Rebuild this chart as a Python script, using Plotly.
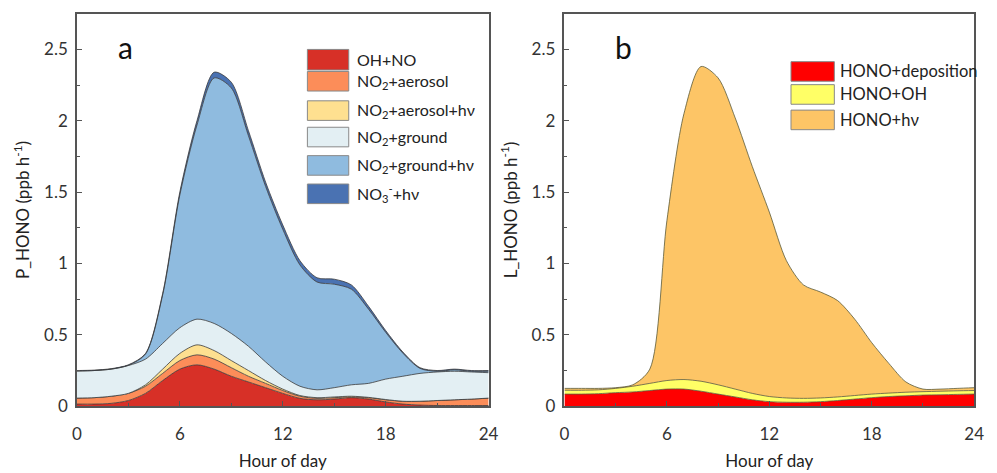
import plotly.graph_objects as go

hours = list(range(25))

# Panel a: HONO production terms (ppb h-1), per layer
oh_no = [0.015,0.015,0.02,0.04,0.09,0.18,0.26,0.29,0.26,0.21,0.17,0.13,0.09,0.055,0.045,0.05,0.06,0.05,0.03,0.015,0.008,0.005,0.005,0.005,0.005]
no2_aerosol = [0.042,0.045,0.05,0.05,0.05,0.05,0.06,0.07,0.07,0.06,0.04,0.03,0.02,0.015,0.01,0.01,0.005,0.01,0.015,0.02,0.027,0.035,0.04,0.045,0.052]
no2_aerosol_hv = [0,0,0,0,0.01,0.03,0.05,0.07,0.06,0.05,0.04,0.02,0.01,0.005,0.005,0.005,0.005,0.002,0.002,0,0,0,0,0,0]
no2_ground = [0.19,0.19,0.19,0.195,0.18,0.18,0.18,0.18,0.19,0.19,0.17,0.13,0.09,0.065,0.055,0.065,0.08,0.098,0.143,0.175,0.195,0.2,0.2,0.19,0.178]
no2_ground_hv = [0,0,0,0.002,0.035,0.34,0.93,1.36,1.72,1.72,1.475,1.23,1.03,0.85,0.755,0.725,0.67,0.52,0.328,0.162,0.035,0.005,0.01,0.005,0.01]
no3_hv = [0.003,0.003,0.003,0.003,0.005,0.01,0.02,0.03,0.04,0.04,0.035,0.03,0.03,0.03,0.03,0.035,0.03,0.02,0.012,0.008,0.005,0.005,0.005,0.005,0.005]

# Panel b: HONO loss terms (ppb h-1), per layer
hono_dep = [0.085,0.085,0.088,0.095,0.1,0.11,0.12,0.12,0.105,0.085,0.065,0.045,0.032,0.028,0.028,0.032,0.04,0.05,0.06,0.068,0.073,0.078,0.08,0.083,0.085]
hono_oh = [0.027,0.027,0.027,0.03,0.04,0.05,0.06,0.067,0.07,0.065,0.055,0.045,0.036,0.03,0.027,0.026,0.025,0.025,0.025,0.024,0.025,0.024,0.025,0.025,0.025]
hono_hv = [0.013,0.013,0.01,0.005,0.01,0.10,1.12,1.863,2.205,2.15,1.9,1.59,1.292,0.962,0.795,0.742,0.675,0.535,0.36,0.208,0.072,0.018,0.015,0.017,0.02]

x_ticks = [0, 6, 12, 18, 24]
y_ticks = [0, 0.5, 1, 1.5, 2, 2.5]

left_series = [
    ("OH+NO", oh_no, "#d73027"),
    ("NO<sub>2</sub>+aerosol", no2_aerosol, "#fc8d59"),
    ("NO<sub>2</sub>+aerosol+hν", no2_aerosol_hv, "#fee090"),
    ("NO<sub>2</sub>+ground", no2_ground, "#e3eff3"),
    ("NO<sub>2</sub>+ground+hν", no2_ground_hv, "#8fbbdf"),
    ("NO<sub>3</sub><sup>-</sup>+hν", no3_hv, "#4a72b2"),
]
right_series = [
    ("HONO+deposition", hono_dep, "#ff0000"),
    ("HONO+OH", hono_oh, "#ffff66"),
    ("HONO+hν", hono_hv, "#fdc566"),
]

FONT = "Lato"
W, H = 997, 473
fig = go.Figure()

for name, vals, col in left_series:
    fig.add_trace(go.Scatter(x=hours, y=vals, name=name, stackgroup="a",
                             mode="lines", fillcolor=col,
                             line=dict(color="#3a3a3a", width=0.8, shape="spline", smoothing=0.8),
                             xaxis="x", yaxis="y", showlegend=False))
for name, vals, col in right_series:
    fig.add_trace(go.Scatter(x=hours, y=vals, name=name, stackgroup="b",
                             mode="lines", fillcolor=col,
                             line=dict(color="#5a5a3a", width=0.8, shape="spline", smoothing=0.8),
                             xaxis="x2", yaxis="y2", showlegend=False))

ydom = [(H - 415) / H, (H - 14) / H]
axis_common = dict(showline=True, linecolor="#555555", linewidth=1.5, mirror=True,
                   ticks="inside", ticklen=5, tickcolor="#555555", tickwidth=1.2,
                   showgrid=False, zeroline=False,
                   tickfont=dict(family=FONT, size=17, color="#333333"))
xax = dict(axis_common, range=[0, 24], tickvals=x_ticks,
           minor=dict(ticks="inside", dtick=3, tick0=0, ticklen=3, tickcolor="#555555"),
           ticklabelstandoff=12,
           title=dict(text="Hour of day", font=dict(family=FONT, size=17, color="#222222"), standoff=12))
yax = dict(axis_common, range=[0, 2.75], tickvals=y_ticks, domain=ydom,
           minor=dict(ticks="inside", dtick=0.25, tick0=0, ticklen=3, tickcolor="#555555"),
           ticklabelstandoff=4)

fig.update_layout(
    width=W, height=H,
    margin=dict(l=0, r=0, t=0, b=0),
    paper_bgcolor="white", plot_bgcolor="white",
    font=dict(family=FONT, color="#222222"),
    xaxis=dict(xax, domain=[73 / W, 491 / W], anchor="y"),
    yaxis=dict(yax, anchor="x",
               title=dict(text="P_HONO (ppb h<sup>-1</sup>)", font=dict(family=FONT, size=17, color="#222222"), standoff=10)),
    xaxis2=dict(xax, domain=[568 / W, 984 / W], anchor="y2"),
    yaxis2=dict(yax, anchor="x2",
                title=dict(text="L_HONO (ppb h<sup>-1</sup>)", font=dict(family=FONT, size=17, color="#222222"), standoff=10)),
    showlegend=False,
)

shapes = []
annotations = []

def legend(items, x0, x1, tx, boxes, size):
    for (name, _, col), (yc, hgt) in zip(items, boxes):
        shapes.append(dict(type="rect", xref="paper", yref="paper",
                           x0=x0 / W, x1=x1 / W,
                           y0=1 - (yc + hgt / 2) / H, y1=1 - (yc - hgt / 2) / H,
                           fillcolor=col, line=dict(color="#888888", width=1)))
        annotations.append(dict(text=name, xref="paper", yref="paper",
                                x=tx / W, y=1 - yc / H, xanchor="left", yanchor="middle",
                                showarrow=False, font=dict(family=FONT, size=size, color="#222222")))

legend(left_series, 307, 349, 355, [(61, 21), (83, 20), (113, 20), (140, 20), (169, 20), (198, 20)], 16)
legend(right_series, 798, 842, 846, [(73, 20), (96.5, 20), (122.5, 20)], 16.5)

annotations.append(dict(text="a", xref="paper", yref="paper", x=122 / W, y=1 - 48 / H,
                        xanchor="center", yanchor="middle", showarrow=False,
                        font=dict(family=FONT, size=30, color="#111111")))
annotations.append(dict(text="b", xref="paper", yref="paper", x=628 / W, y=1 - 48 / H,
                        xanchor="center", yanchor="middle", showarrow=False,
                        font=dict(family=FONT, size=30, color="#111111")))

fig.update_layout(shapes=shapes, annotations=annotations)
fig.write_html("out.html")
